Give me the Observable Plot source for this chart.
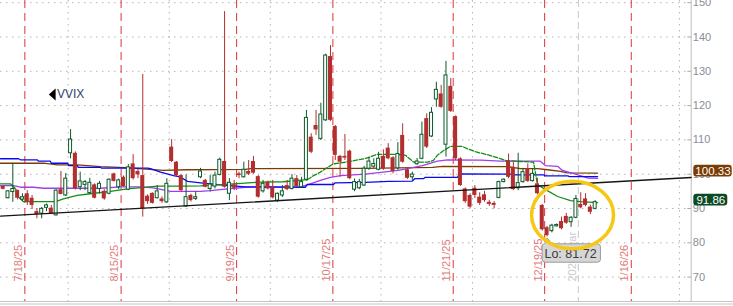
<!DOCTYPE html>
<html><head><meta charset="utf-8">
<script src="https://cdn.jsdelivr.net/npm/d3@7"></script>
<script src="https://cdn.jsdelivr.net/npm/@observablehq/plot@0.6"></script>
<style>
html,body{margin:0;padding:0;background:#fff;overflow:hidden}
#chart svg{display:block}
</style></head><body><div id="chart"></div>
<script>
// Daily VVIX candles (bar index 0 = 7/14/25 ... 123 = 1/7/26)
const opens  = [96.4,93.0,94.8,95.2,92.6,94.3,93.0,89.1,88.5,90.2,90.1,88.0,95.5,93.8,106.1,106.1,96.2,96.9,94.5,96.9,95.7,95.0,94.3,100.1,96.2,99.1,95.5,103.0,100.8,99.6,93.6,94.4,93.0,92.8,91.8,107.9,103.5,99.6,90.6,93.8,92.8,99.1,98.2,95.7,96.4,99.8,103.7,94.3,96.9,100.1,99.1,100.8,103.7,99.3,95.0,97.7,96.0,92.3,93.8,96.7,95.7,98.7,96.2,98.4,110.8,114.2,110.3,115.7,134.3,113.9,105.2,105.2,106.7,95.5,95.9,96.7,101.6,102.2,101.3,105.2,107.6,104.8,101.7,111.3,101.3,99.1,102.9,104.5,116.2,111.0,121.8,123.4,108.6,125.6,116.8,104.5,95.7,93.8,95.9,93.3,94.0,91.8,91.5,93.1,97.7,103.8,102.0,95.9,97.7,101.6,98.0,97.2,90.9,84.4,83.4,84.8,86.2,87.7,86.0,87.3,91.2,92.8,90.4,89.9];
const highs  = [96.6,95.2,103.2,95.4,94.3,95.2,93.8,89.9,90.3,91.3,90.9,95.5,100.8,100.2,113.0,106.5,100.6,98.2,98.8,97.2,97.9,95.5,98.6,100.3,98.6,99.5,102.8,105.7,101.4,129.1,94.0,94.6,96.7,93.4,98.7,110.1,103.7,99.8,99.8,94.2,94.8,101.7,98.5,99.6,100.6,104.7,147.4,98.7,98.2,100.6,103.5,104.0,105.2,99.6,98.2,98.0,98.2,94.5,96.7,98.2,99.9,99.6,99.1,118.6,111.8,118.6,120.7,135.0,137.5,114.2,105.5,111.6,107.0,98.6,98.5,102.3,104.9,104.5,106.4,107.1,108.9,105.1,109.2,114.7,101.6,100.6,104.6,115.2,117.6,119.4,126.8,125.9,132.9,127.9,117.0,104.8,96.0,94.3,96.7,94.6,95.0,92.4,92.0,98.0,98.6,105.9,103.5,106.1,101.7,103.0,101.6,98.8,91.2,84.8,85.4,85.5,87.5,88.6,87.6,93.8,94.6,94.3,91.0,92.3];
const lows   = [95.4,92.8,91.8,92.5,92.0,90.9,89.7,87.0,87.0,89.1,88.2,87.8,94.0,93.5,104.5,95.4,95.2,95.2,94.2,92.8,94.2,92.4,94.0,97.7,95.5,96.2,95.2,98.3,98.7,87.5,91.2,91.3,92.8,91.5,91.5,103.4,99.3,94.8,90.3,91.9,92.3,98.7,96.0,94.8,95.7,99.5,95.9,92.3,95.2,98.7,98.9,99.6,100.0,93.0,94.5,95.4,92.8,91.8,93.2,95.2,95.4,96.1,96.0,98.0,106.0,111.3,109.8,115.4,115.4,104.0,99.1,104.0,98.4,94.9,95.5,96.4,101.1,101.7,101.0,101.1,104.2,100.1,101.1,103.2,98.5,98.2,102.6,104.2,107.5,110.7,119.5,119.2,105.0,118.0,104.0,96.4,91.5,89.9,92.9,90.9,91.8,90.6,89.9,92.8,97.5,98.7,95.2,95.2,97.4,97.6,97.7,94.0,83.4,81.72,82.9,84.6,83.8,85.4,84.5,87.0,89.9,90.5,88.2,89.6];
const closes = [95.6,95.0,95.7,93.0,93.3,92.0,90.9,88.2,89.9,90.9,88.5,95.2,94.1,98.7,110.1,95.7,97.9,97.7,97.5,93.0,97.2,92.8,98.4,97.9,98.2,96.4,102.0,98.7,99.8,89.9,92.0,91.5,95.0,92.0,97.2,103.7,99.6,95.2,93.3,92.3,93.3,100.8,96.2,97.0,99.6,104.2,96.2,97.5,95.9,99.6,101.3,100.0,100.3,93.3,97.2,95.7,93.1,94.3,95.0,95.5,98.7,96.4,97.7,116.4,106.4,112.9,117.4,134.6,115.7,105.5,103.5,104.7,98.7,97.7,97.7,101.6,103.7,103.0,104.5,101.6,104.5,100.8,105.9,103.5,98.8,99.9,103.7,111.5,107.9,117.9,124.6,119.5,128.8,118.3,104.5,96.7,92.0,90.4,93.8,91.5,92.3,91.2,90.9,97.7,98.4,99.1,95.5,97.4,100.6,97.9,100.1,94.3,83.8,82.1,85.0,85.2,84.1,85.7,87.3,92.8,90.2,90.9,88.9,91.86];

// Moving averages as [bar index, value]
const blueMA = [[-0.56,104.5],[3.2,104.5],[3.6,104.2],[7.1,104.2],[7.3,103.8],[9.8,103.8],[10.0,103.2],[13.4,103.2],[13.6,102.5],[15.4,102.5],[15.6,102.0],[20.2,102.0],[20.4,101.8],[30.0,101.8],[30.6,101.6],[32.7,100.6],[35.4,99.6],[36.8,99.2],[38.3,97.9],[41.0,97.5],[45.2,96.9],[50.3,96.3],[62.8,96.2],[63.2,97.0],[68.6,97.0],[69.0,97.5],[75.3,97.6],[80.1,97.9],[85.0,98.0],[85.5,98.7],[87.3,98.7],[87.7,99.1],[94.4,99.1],[94.8,100.1],[106.0,100.0],[106.4,99.8],[112.3,99.8],[112.7,99.5],[117.3,99.5],[117.7,99.3],[123.5,99.3]];
const brownMA = [[-0.56,103.2],[8.4,103.2],[11.3,102.7],[15.4,102.7],[20.2,102.2],[25.4,101.9],[33.3,101.1],[38.3,101.3],[50.3,101.4],[51.4,101.6],[75.3,101.7],[89.2,102.0],[91.3,102.3],[104.8,102.2],[107.5,101.6],[111.0,101.6],[113.1,101.3],[115.8,100.8],[117.2,100.4],[123.5,100.33]];
const purpleMA = [[-0.56,96.7],[2.1,96.7],[3.6,96.2],[6.3,96.2],[8.4,95.9],[20.2,95.9],[24.4,96.3],[28.5,96.3],[31.2,96.0],[34.8,95.0],[41.0,95.0],[43.1,95.2],[45.1,95.5],[50.3,96.2],[61.8,96.3],[63.8,97.2],[65.9,98.2],[68.0,99.1],[70.1,99.6],[75.3,100.0],[82.1,101.1],[87.1,102.5],[90.2,103.8],[92.3,104.2],[99.2,104.1],[103.3,103.8],[111.6,103.8],[112.7,102.5],[115.2,102.3],[116.2,101.1],[118.9,100.0],[121.4,98.9],[123.5,98.8]];
const greenMA = [[-0.56,97.2],[1.5,97.2],[2.6,95.7],[3.2,93.3],[4.2,92.0],[10.9,92.0],[12.5,92.8],[15.4,93.8],[18.1,94.3],[22.3,95.0],[25.8,95.7],[32.1,96.5],[37.5,96.5],[41.0,96.6],[47.9,97.2],[53.5,97.7],[58.2,97.8],[63.2,98.4],[64.5,99.6],[65.9,100.6],[67.4,102.0],[68.6,103.0],[71.1,103.5],[75.3,104.6],[77.8,105.8],[81.9,105.8],[83.6,105.5],[85.3,103.5],[88.2,103.5],[89.4,104.0],[90.2,105.5],[91.3,106.7],[92.9,108.1],[95.4,108.1],[96.5,107.4],[98.5,106.4],[100.6,105.7],[102.7,104.8],[104.4,104.0],[107.5,103.7],[110.2,103.5],[111.0,97.0],[112.7,95.5],[115.2,93.5],[117.9,92.3],[119.9,92.0],[123.5,91.7]];

// Trendline anchors
const trendIdx = [-0.56, 142.95];
const trendVal = [87.76, 99.04];

// Axes / annotations
const yTicks = [70, 80, 90, 100, 110, 120, 130, 140, 150];
const expiryIdx = [4.5, 24.5, 48.5, 68.5, 93.5, 112.5, 130.5];
const expiryLabels = ["7/18/25", "8/15/25", "9/19/25", "10/17/25", "11/21/25", "12/19/25", "1/16/26"];
const monthIdx = [13.5, 34.5, 55.5, 78.5, 97.5, 140.5];
const yearIdx = 119.5;
const yearLabel = "2026 Year";
const lastLabels = [100.33, 91.86];
const lowBar = 113, lowValue = 81.72;
const circleIdx = 118.3, circleVal = 88.1;

const RED = "#b32f2f", GRN = "#0c5a28";
const FONT = "'Liberation Sans', Arial, sans-serif";

const candles = opens.map((o, i) => ({i, o, h: highs[i], l: lows[i], c: closes[i], up: closes[i] >= o}));
const ma = (arr) => arr.map(([i, v]) => ({i, v}));

const leftTri = {draw(ctx) { ctx.moveTo(-3.4, 0); ctx.lineTo(3.4, -5.9); ctx.lineTo(3.4, 5.9); ctx.closePath(); }};
const ellipse = {draw(ctx) {
  const rx = 41, ry = 33.8, k = 0.5523;
  ctx.moveTo(rx, 0);
  ctx.bezierCurveTo(rx, ry * k, rx * k, ry, 0, ry);
  ctx.bezierCurveTo(-rx * k, ry, -rx, ry * k, -rx, 0);
  ctx.bezierCurveTo(-rx, -ry * k, -rx * k, -ry, 0, -ry);
  ctx.bezierCurveTo(rx * k, -ry, rx, -ry * k, rx, 0);
  ctx.closePath();
}};
const callout = {draw(ctx) {
  const L = -4.9, R = 53.4, T = 6.9, B = 25.3;
  ctx.moveTo(L + 2.5, T);
  ctx.lineTo(0, 1);
  ctx.lineTo(5, T);
  ctx.lineTo(R - 3, T);
  ctx.quadraticCurveTo(R, T, R, T + 3);
  ctx.lineTo(R, B - 3);
  ctx.quadraticCurveTo(R, B, R - 3, B);
  ctx.lineTo(L + 3, B);
  ctx.quadraticCurveTo(L, B, L, B - 3);
  ctx.lineTo(L, T + 3);
  ctx.quadraticCurveTo(L, T, L + 2.5, T);
  ctx.closePath();
}};

const greenPts = ma(greenMA);
const plot = Plot.plot({
  width: 733, height: 306,
  marginLeft: 0, marginRight: 42.3, marginTop: 0, marginBottom: 5,
  style: {background: "#fff", fontFamily: FONT, overflow: "visible"},
  x: {type: "linear", domain: [-0.56, 142.95], axis: null},
  y: {type: "linear", domain: [62.89, 150.64], axis: null},
  marks: [
    Plot.ruleY(yTicks, {stroke: "#b4b4b4", strokeDasharray: "1.5,4.5"}),
    Plot.ruleX(monthIdx, {stroke: "#b4b4b4", strokeDasharray: "1.5,4.5"}),
    Plot.ruleX([yearIdx], {stroke: "#c6c6c6", strokeDasharray: "7,4"}),
    Plot.ruleX(expiryIdx, {stroke: "#dc3434", strokeDasharray: "8,5"}),
    Plot.text(expiryLabels, {x: (d, k) => expiryIdx[k], y: () => 68.72, text: d => d, rotate: -90, textAnchor: "start", lineAnchor: "bottom", dx: -3, fill: "#e27b7b", fontSize: 11}),
    Plot.text([yearLabel], {x: () => yearIdx, y: () => 68.72, text: d => d, rotate: -90, textAnchor: "start", lineAnchor: "bottom", dx: -2.5, fill: "#cbcbcb", fontSize: 11}),
    // axis frame
    Plot.ruleX([142.95], {stroke: "#bdbdbd"}),
    Plot.ruleY([62.89], {x1: () => -0.56, x2: () => 152.4, stroke: "#c4c4c4"}),
    Plot.ruleY([62.89], {x1: () => -0.56, x2: () => 152.4, stroke: "#c4c4c4", dy: 2.5}),
    Plot.ruleY(yTicks, {x1: () => 142.25, x2: () => 142.95, stroke: "#a8a8a8"}),
    Plot.text(yTicks, {x: () => 143.28, y: d => d, text: d => String(d), textAnchor: "start", lineAnchor: "middle", fill: "#8a8c98", fontSize: 11}),
    // moving averages
    Plot.line(ma(brownMA), {x: "i", y: "v", stroke: "#7a3c05", strokeWidth: 1.3}),
    Plot.line(ma(purpleMA), {x: "i", y: "v", stroke: "#a23cf0", strokeWidth: 1.3}),
    Plot.line(ma(blueMA), {x: "i", y: "v", stroke: "#0a0af0", strokeWidth: 1.3}),
    Plot.line(greenPts.filter(d => d.i <= 63.2), {x: "i", y: "v", stroke: "#138f13", strokeWidth: 1.3}),
    Plot.line(greenPts.filter(d => d.i >= 63.2 && d.i <= 111.0), {x: "i", y: "v", stroke: "#138f13", strokeWidth: 1.3, strokeDasharray: "4.5,1.8"}),
    Plot.line(greenPts.filter(d => d.i >= 111.0), {x: "i", y: "v", stroke: "#138f13", strokeWidth: 1.3}),
    // candles
    Plot.ruleX(candles.filter(d => !d.up), {x: "i", y1: "l", y2: "h", stroke: RED}),
    Plot.ruleX(candles.filter(d => d.up), {x: "i", y1: "l", y2: "h", stroke: GRN}),
    Plot.rect(candles.filter(d => !d.up), {x1: d => d.i - 0.42, x2: d => d.i + 0.42, y1: "o", y2: "c", fill: RED}),
    Plot.rect(candles.filter(d => d.up), {x1: d => d.i - 0.31, x2: d => d.i + 0.31, y1: "o", y2: "c", fill: "#fff", stroke: GRN, strokeWidth: 1}),
    // trendline
    Plot.line(trendIdx.map((i, k) => ({i, v: trendVal[k]})), {x: "i", y: "v", stroke: "#151515", strokeWidth: 1.3}),
    // VVIX label
    Plot.dot([0], {frameAnchor: "top-left", dx: 51.7, dy: 94, symbol: leftTri, r: 5, fill: "#000", stroke: "none"}),
    Plot.text(["VVIX"], {frameAnchor: "top-left", dx: 56.5, dy: 94, text: d => d, textAnchor: "start", lineAnchor: "middle", fill: "#2f3f6e", fontSize: 12}),
    // last value boxes
    Plot.rect([lastLabels[0]], {x1: () => 143.49, x2: () => 151.47, y1: d => d, y2: d => d, insetTop: -7.8, insetBottom: -3.9, rx: 3, fill: "#7a3c05"}),
    Plot.text([lastLabels[0]], {x: () => 147.47, y: d => d, text: d => d.toFixed(2), dy: -2, textAnchor: "middle", lineAnchor: "middle", fill: "#fff", fontSize: 11.5}),
    Plot.rect([lastLabels[1]], {x1: () => 143.49, x2: () => 150.55, y1: d => d, y2: d => d, insetTop: -7.8, insetBottom: -3.9, rx: 3, fill: "#0c4a24"}),
    Plot.text([lastLabels[1]], {x: () => 147.02, y: d => d, text: d => d.toFixed(2), dy: -2, textAnchor: "middle", lineAnchor: "middle", fill: "#fff", fontSize: 11.5}),
    // Lo callout
    Plot.dot([lowValue], {x: () => lowBar, y: d => d, symbol: callout, r: 5, fill: "#d6d6d6", stroke: "#9c9c9c", strokeWidth: 1}),
    Plot.text([lowValue], {x: () => lowBar, y: d => d, text: d => "Lo: " + d.toFixed(2), dx: -2.6, dy: 16.6, textAnchor: "start", lineAnchor: "middle", fill: "#3a3a3a", fontSize: 12.5}),
    // highlight ellipse
    Plot.dot([circleVal], {x: () => circleIdx, y: d => d, symbol: ellipse, r: 5, fill: "none", stroke: "#f6c814", strokeWidth: 3.5})
  ]
});
document.getElementById("chart").appendChild(plot);
</script>
</body></html>
